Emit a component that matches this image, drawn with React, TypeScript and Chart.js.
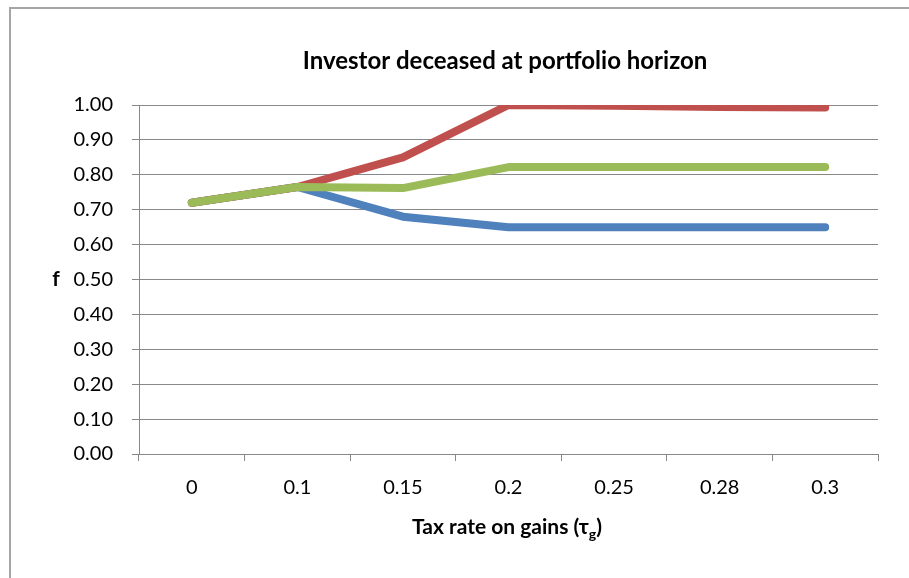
import React, { useEffect, useRef } from "react";
import { Chart, registerables } from "chart.js";

Chart.register(...registerables);

const categories = ["0", "0.1", "0.15", "0.2", "0.25", "0.28", "0.3"];
const blueSeries = [0.72, 0.765, 0.68, 0.65, 0.65, 0.65, 0.65];
const redSeries = [0.72, 0.765, 0.85, 1.0, 0.998, 0.994, 0.993];
const greenSeries = [0.72, 0.765, 0.762, 0.822, 0.822, 0.822, 0.822];
const chartTitle = "Investor deceased at portfolio horizon";
const yAxisLabel = "f";
const xAxisLabelMain = "Tax rate on gains (τ";
const xAxisLabelSub = "g";
const xAxisLabelEnd = ")";

const FONT = "Lato, 'Open Sans', sans-serif";

const textPlugin = {
  id: "textPlugin",
  afterDraw(chart: any) {
    const ctx = chart.ctx;
    const y = chart.scales.y;
    ctx.save();
    ctx.fillStyle = "#000";
    ctx.textBaseline = "middle";
    // title
    ctx.font = `bold 24px ${FONT}`;
    ctx.textAlign = "center";
    ctx.fillText(chartTitle, 505, 61);
    // y label
    ctx.font = `bold 21px ${FONT}`;
    ctx.fillText(yAxisLabel, 56, y.getPixelForValue(0.5));
    // x label with subscript
    const mainFont = `bold 21px ${FONT}`;
    const subFont = `bold 14px ${FONT}`;
    ctx.font = mainFont;
    const w1 = ctx.measureText(xAxisLabelMain).width;
    const w3 = ctx.measureText(xAxisLabelEnd).width;
    ctx.font = subFont;
    const w2 = ctx.measureText(xAxisLabelSub).width;
    const total = w1 + w2 + w3;
    const cx = 507;
    let x = cx - total / 2;
    const by = 527;
    ctx.textAlign = "left";
    ctx.font = mainFont;
    ctx.fillText(xAxisLabelMain, x, by);
    x += w1;
    ctx.font = subFont;
    ctx.fillText(xAxisLabelSub, x, by + 7);
    x += w2;
    ctx.font = mainFont;
    ctx.fillText(xAxisLabelEnd, x, by);
    ctx.restore();
  },
};

export default function App() {
  const ref = useRef<HTMLCanvasElement>(null);
  useEffect(() => {
    if (!ref.current) return;
    const lineStyle = {
      borderWidth: 8,
      pointRadius: 0,
      pointHoverRadius: 0,
      tension: 0,
      borderCapStyle: "round" as const,
      borderJoinStyle: "round" as const,
      fill: false,
    };
    const chart = new Chart(ref.current, {
      type: "line",
      data: {
        labels: categories,
        datasets: [
          { label: "green", data: greenSeries, borderColor: "#9BBB59", backgroundColor: "#9BBB59", order: 1, ...lineStyle },
          { label: "red", data: redSeries, borderColor: "#C0504D", backgroundColor: "#C0504D", order: 2, ...lineStyle },
          { label: "blue", data: blueSeries, borderColor: "#4F81BD", backgroundColor: "#4F81BD", order: 3, ...lineStyle },
        ],
      },
      options: {
        responsive: false,
        animation: false,
        events: [],
        layout: { padding: { left: 0, right: 31, top: 105, bottom: 0 } },
        plugins: {
          legend: { display: false },
          tooltip: { enabled: false },
          title: { display: false },
        },
        scales: {
          x: {
            type: "category",
            offset: true,
            grid: {
              offset: true,
              drawOnChartArea: false,
              drawTicks: true,
              tickLength: 7,
              color: "#888888",
              lineWidth: 1,
            },
            border: { color: "#888888", width: 1 },
            ticks: {
              color: "#000",
              font: { family: FONT, size: 20 },
              padding: 15,
              maxRotation: 0,
            },
            afterFit: (s: any) => {
              s.height = 578 - 454;
            },
          },
          y: {
            min: 0,
            max: 1,
            grid: {
              color: "#888888",
              lineWidth: 1,
              tickLength: 7,
            },
            border: { color: "#888888", width: 1 },
            ticks: {
              stepSize: 0.1,
              color: "#000",
              font: { family: FONT, size: 20 },
              padding: 19,
              callback: (v: any) => Number(v).toFixed(2),
            },
            afterFit: (s: any) => {
              s.width = 139;
            },
          },
        },
      },
      plugins: [textPlugin],
    });
    return () => chart.destroy();
  }, []);
  return (
    <div style={{ position: "absolute", left: 0, top: 0, width: 909, height: 578, overflow: "hidden", background: "#fff" }}>
      <div
        style={{
          position: "absolute",
          left: 9,
          top: 7,
          width: 960,
          height: 640,
          borderTop: "2px solid #A6A6A6",
          borderLeft: "2px solid #A6A6A6",
        }}
      />
      <canvas ref={ref} width={909} height={578} style={{ position: "absolute", left: 0, top: 0 }} />
    </div>
  );
}
